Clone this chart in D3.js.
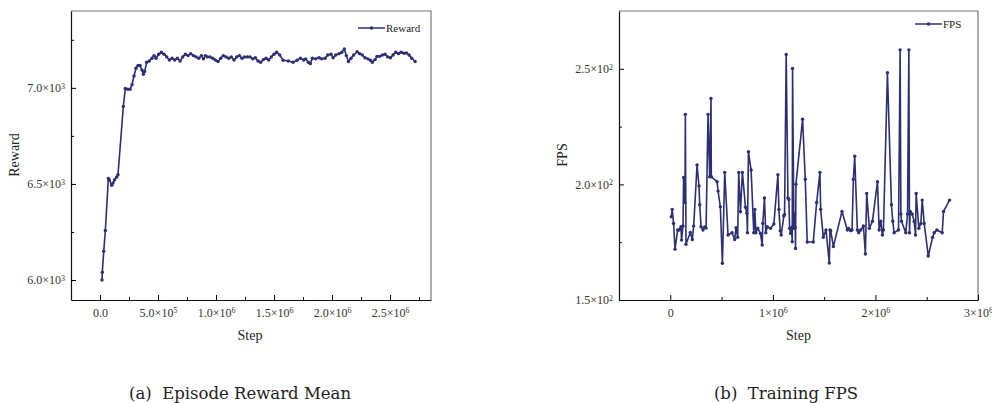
<!DOCTYPE html>
<html>
<head>
<meta charset="utf-8">
<script src="https://cdn.jsdelivr.net/npm/d3@7"></script>
<style>
  body { margin: 0; background: #fff; }
  svg text { font-family: "Liberation Serif", "Times New Roman", serif; }
</style>
</head>
<body>
<svg id="chart" width="992" height="403"></svg>
<script>
// reward panel: step, mean reward
var rewardSteps = [17e3, 20e3, 32e3, 46e3, 72e3, 80e3, 101e3, 112e3, 126e3, 144e3, 155e3, 201e3, 218e3, 239e3, 259e3, 276e3, 293e3,
  310e3, 328e3, 345e3, 362e3, 374e3, 385e3, 402e3, 425e3, 448e3, 466e3, 483e3, 506e3, 529e3, 552e3, 575e3, 598e3, 621e3, 644e3, 667e3, 690e3,
  713e3, 736e3, 759e3, 782e3, 805e3, 828e3, 851e3, 874e3, 891e3, 908e3, 925e3, 948e3, 971e3, 994e3, 1017e3, 1040e3, 1063e3, 1086e3, 1109e3,
  1132e3, 1155e3, 1178e3, 1201e3, 1224e3, 1247e3, 1270e3, 1293e3, 1316e3, 1339e3, 1362e3, 1385e3, 1408e3, 1431e3, 1454e3, 1477e3, 1500e3,
  1523e3, 1549e3, 1578e3, 1623e3, 1664e3, 1698e3, 1727e3, 1756e3, 1773e3, 1796e3, 1813e3, 1830e3, 1859e3, 1888e3, 1911e3, 1940e3, 1963e3,
  1991e3, 2009e3, 2032e3, 2060e3, 2084e3, 2106e3, 2123e3, 2141e3, 2164e3, 2187e3, 2216e3, 2238e3, 2261e3, 2284e3, 2308e3, 2330e3, 2347e3,
  2371e3, 2388e3, 2411e3, 2434e3, 2457e3, 2480e3, 2503e3, 2526e3, 2549e3, 2572e3, 2595e3, 2618e3, 2641e3, 2664e3, 2687e3, 2716e3];
var rewardValues = [6000, 6041, 6150, 6258, 6528, 6522, 6493, 6505, 6522, 6536, 6548, 6903, 6997, 6993, 6993, 7016, 7062,
  7102, 7116, 7116, 7093, 7071, 7085, 7133, 7140, 7154, 7168, 7154, 7175, 7185, 7175, 7161, 7145, 7154, 7145, 7154, 7140,
  7161, 7175, 7168, 7178, 7168, 7161, 7154, 7168, 7151, 7168, 7161, 7161, 7154, 7145, 7137, 7154, 7168, 7161, 7154,
  7161, 7145, 7161, 7168, 7154, 7161, 7161, 7161, 7151, 7157, 7140, 7133, 7147, 7154, 7145, 7161, 7175,
  7185, 7171, 7144, 7140, 7133, 7144, 7154, 7145, 7151, 7133, 7126, 7154, 7151, 7157, 7151, 7154, 7171,
  7175, 7157, 7171, 7178, 7185, 7202, 7168, 7137, 7154, 7171, 7188, 7178, 7171, 7157, 7151, 7144, 7133,
  7147, 7164, 7164, 7171, 7175, 7161, 7157, 7171, 7185, 7178, 7185, 7180, 7182, 7171, 7154, 7137];

// fps panel: step, frames per second
var fpsSteps = [10e3, 19e3, 32e3, 46e3, 72e3, 85e3, 104e3, 110e3, 124e3, 130e3, 143e3, 147e3, 153e3, 195e3, 215e3, 228e3, 261e3,
  280e3, 287e3, 300e3, 319e3, 335e3, 349e3, 368e3, 384e3, 397e3, 400e3, 456e3, 466e3, 488e3, 508e3, 531e3, 563e3, 602e3, 628e3,
  641e3, 657e3, 667e3, 684e3, 703e3, 733e3, 746e3, 752e3, 762e3, 788e3, 814e3, 824e3, 834e3, 853e3, 879e3, 896e3, 902e3, 918e3,
  931e3, 945e3, 977e3, 1010e3, 1049e3, 1059e3, 1072e3, 1081e3, 1107e3, 1114e3, 1130e3, 1147e3, 1156e3, 1163e3, 1173e3, 1182e3,
  1189e3, 1192e3, 1205e3, 1212e3, 1218e3, 1221e3, 1225e3, 1290e3, 1316e3, 1335e3, 1394e3, 1427e3, 1459e3, 1466e3, 1492e3, 1518e3,
  1550e3, 1557e3, 1564e3, 1590e3, 1674e3, 1726e3, 1739e3, 1759e3, 1772e3, 1785e3, 1798e3, 1824e3, 1837e3, 1857e3, 1883e3, 1902e3,
  1915e3, 1941e3, 1971e3, 2020e3, 2036e3, 2052e3, 2068e3, 2078e3, 2117e3, 2156e3, 2169e3, 2182e3, 2225e3, 2241e3, 2248e3, 2254e3,
  2296e3, 2313e3, 2326e3, 2332e3, 2339e3, 2358e3, 2378e3, 2391e3, 2397e3, 2423e3, 2443e3, 2456e3, 2476e3, 2515e3, 2557e3, 2573e3,
  2599e3, 2651e3, 2664e3, 2723e3];
var fpsValues = [186.0, 189.2, 183.1, 172.0, 180.3, 180.3, 181.7, 175.9, 182.0, 203.0, 192.2, 230.3, 174.1, 179.2, 176.2, 182.0, 208.4,
  199.3, 191.2, 181.7, 180.3, 181.6, 181.1, 230.3, 203.3, 237.2, 203.3, 201.2, 197.1, 190.3, 165.9, 205.2, 178.1, 179.1, 176.2,
  181.3, 177.1, 205.2, 188.2, 205.2, 190.1, 187.5, 179.1, 214.1, 206.2, 179.1, 189.2, 179.1, 181.1, 178.8, 173.8, 183.1, 194.1,
  179.1, 181.7, 181.0, 182.9, 204.2, 189.2, 179.9, 178.1, 186.3, 187.0, 256.2, 194.1, 193.5, 181.0, 178.8, 181.4,
  175.2, 250.1, 181.0, 187.2, 181.4, 172.3, 200.1, 228.2, 202.2, 175.1, 175.1, 192.2, 205.2, 189.2, 177.1, 180.3,
  166.0, 180.3, 180.0, 173.1, 188.3, 180.3, 181.0, 180.0, 180.3, 202.2, 212.2, 180.3, 179.1, 180.3, 182.0, 169.9,
  196.1, 181.0, 184.1, 201.2, 180.3, 184.1, 178.1, 180.3, 248.3, 191.2, 184.1, 179.1, 180.3, 258.2, 187.2, 184.1,
  179.1, 187.2, 258.2, 179.1, 188.3, 187.2, 184.1, 178.1, 196.1, 181.0, 183.1, 193.2, 183.1, 169.0, 177.1, 179.1,
  180.3, 179.1, 188.3, 193.2];

// tick values and labels (mantissa, exponent)
var rewardXTicks = [0, 5e5, 1e6, 1.5e6, 2e6, 2.5e6];
var rewardXLabels = [["0.0", ""], ["5.0", "5"], ["1.0", "6"], ["1.5", "6"], ["2.0", "6"], ["2.5", "6"]];
var rewardXMinor = [2.5e5, 7.5e5, 1.25e6, 1.75e6, 2.25e6, 2.75e6];
var rewardYTicks = [6000, 6500, 7000];
var rewardYLabels = [["6.0", "3"], ["6.5", "3"], ["7.0", "3"]];
var rewardYMinor = [6250, 6750, 7250];

var fpsXTicks = [0, 1e6, 2e6, 3e6];
var fpsXLabels = [["0", ""], ["1", "6"], ["2", "6"], ["3", "6"]];
var fpsXMinor = [5e5, 1.5e6, 2.5e6];
var fpsYTicks = [150, 200, 250];
var fpsYLabels = [["1.5", "2"], ["2.0", "2"], ["2.5", "2"]];
var fpsYMinor = [175, 225];

var captions = ["(a)  Episode Reward Mean", "(b)  Training FPS"];

var lineColor = '#2c2f72';
var svg = d3.select('#chart');

function sciLabel(sel, labels) {
  sel.selectAll('.tick text').each(function(d, i) {
    var t = d3.select(this).text(null);
    var lab = labels[i];
    if (lab[1] === '') {
      t.append('tspan').text(lab[0]);
    } else {
      t.append('tspan').text(lab[0] + '\u00d710');
      t.append('tspan').attr('dy', '-0.45em').attr('font-size', '8px').text(lab[1]);
    }
  });
}

function drawPanel(opt) {
  var x = d3.scaleLinear().domain(opt.xDomain).range([opt.left, opt.right]);
  var y = d3.scaleLinear().domain(opt.yDomain).range([opt.bottom, opt.top]);
  var g = svg.append('g');

  // top/right frame
  g.append('path')
    .attr('d', 'M' + opt.left + ',' + opt.top + 'H' + opt.right + 'V' + opt.bottom)
    .attr('fill', 'none').attr('stroke', '#777').attr('stroke-width', 1.2);

  var xAxis = g.append('g').attr('transform', 'translate(0,' + opt.bottom + ')')
    .call(d3.axisBottom(x).tickValues(opt.xTicks).tickSizeInner(-5).tickSizeOuter(0).tickPadding(8));
  sciLabel(xAxis, opt.xLabels);
  g.append('g').attr('transform', 'translate(0,' + opt.bottom + ')')
    .call(d3.axisBottom(x).tickValues(opt.xMinor).tickSizeInner(-3).tickSizeOuter(0).tickFormat(''))
    .select('.domain').remove();

  var yAxis = g.append('g').attr('transform', 'translate(' + opt.left + ',0)')
    .call(d3.axisLeft(y).tickValues(opt.yTicks).tickSizeInner(-5).tickSizeOuter(0).tickPadding(6));
  sciLabel(yAxis, opt.yLabels);
  g.append('g').attr('transform', 'translate(' + opt.left + ',0)')
    .call(d3.axisLeft(y).tickValues(opt.yMinor).tickSizeInner(-3).tickSizeOuter(0).tickFormat(''))
    .select('.domain').remove();

  g.selectAll('.tick text').attr('font-size', '12px').attr('fill', '#333')
    .attr('font-family', '"Liberation Serif", serif');
  g.selectAll('.domain').attr('stroke', '#111').attr('stroke-width', 1.2);

  // axis titles
  g.append('text').attr('x', (opt.left + opt.right) / 2 + opt.xTitleShift).attr('y', 340)
    .attr('text-anchor', 'middle').attr('font-size', '14px').attr('fill', '#222').text('Step');
  g.append('text').attr('transform', 'translate(' + opt.yTitleX + ',155) rotate(-90)')
    .attr('text-anchor', 'middle').attr('font-size', '14px').attr('fill', '#222').text(opt.name);

  var data = opt.steps.map(function(s, i) { return [s, opt.values[i]]; });
  g.append('path').datum(data)
    .attr('d', d3.line().x(function(d) { return x(d[0]); }).y(function(d) { return y(d[1]); }))
    .attr('fill', 'none').attr('stroke', lineColor).attr('stroke-width', 1.6).attr('stroke-linejoin', 'round');
  g.selectAll('circle.pt').data(data).enter().append('circle').attr('class', 'pt')
    .attr('cx', function(d) { return x(d[0]); }).attr('cy', function(d) { return y(d[1]); })
    .attr('r', 1.7).attr('fill', lineColor);

  // legend
  var lx = opt.legendX, ly = opt.legendY;
  g.append('line').attr('x1', lx).attr('x2', lx + 27).attr('y1', ly).attr('y2', ly)
    .attr('stroke', lineColor).attr('stroke-width', 1.5);
  g.append('circle').attr('cx', lx + 13.5).attr('cy', ly).attr('r', 1.8).attr('fill', lineColor);
  g.append('text').attr('x', lx + 28).attr('y', ly + 4).attr('font-size', '11px').attr('fill', '#222').text(opt.name);

  svg.append('text').attr('x', opt.captionX).attr('y', 399).attr('text-anchor', 'middle')
    .style('font-family', '"DejaVu Serif", serif').attr('font-size', '16.5px').attr('fill', '#222')
    .style('white-space', 'pre').text(opt.caption);
}

drawPanel({
  name: 'Reward', steps: rewardSteps, values: rewardValues,
  xDomain: [-2.5e5, 2.853e6], yDomain: [5896, 7400],
  left: 71, right: 431, top: 11, bottom: 300,
  xTicks: rewardXTicks, xLabels: rewardXLabels, xMinor: rewardXMinor,
  yTicks: rewardYTicks, yLabels: rewardYLabels, yMinor: rewardYMinor,
  xTitleShift: -1, yTitleX: 19, legendX: 358, legendY: 28,
  caption: captions[0], captionX: 240
});

drawPanel({
  name: 'FPS', steps: fpsSteps, values: fpsValues,
  xDomain: [-5e5, 3e6], yDomain: [150, 275],
  left: 619, right: 978, top: 11, bottom: 300,
  xTicks: fpsXTicks, xLabels: fpsXLabels, xMinor: fpsXMinor,
  yTicks: fpsYTicks, yLabels: fpsYLabels, yMinor: fpsYMinor,
  xTitleShift: 0, yTitleX: 567, legendX: 915, legendY: 24,
  caption: captions[1], captionX: 786
});
</script>
</body>
</html>
